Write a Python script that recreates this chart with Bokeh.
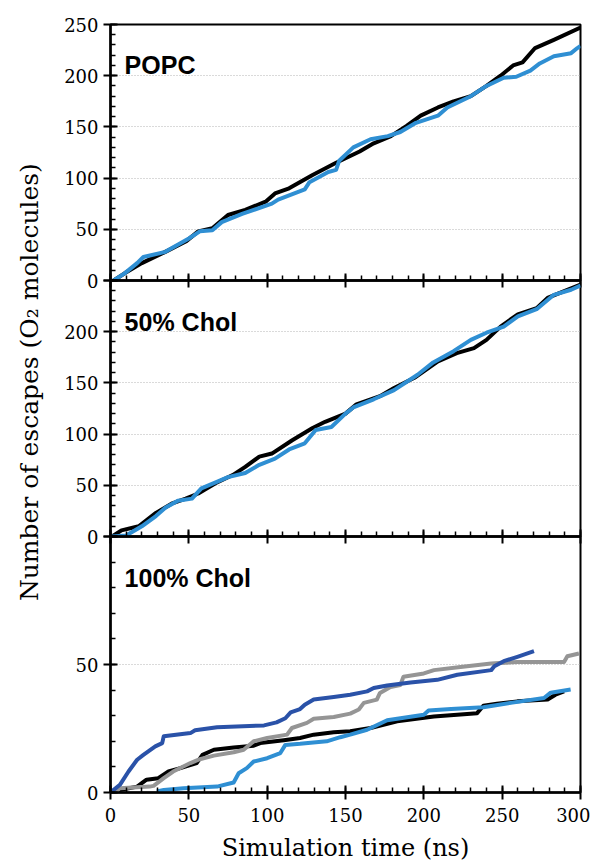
import numpy as np
from bokeh.plotting import figure
from bokeh.models import Range1d, FixedTicker, Label, GridBox
from bokeh.embed import file_html
from bokeh.resources import INLINE

# ---------------- data ----------------
X_TICKS = [0, 50, 100, 150, 200, 250, 300]
X_MINOR = list(range(0, 301, 10))

# POPC panel
popc_black_t = [2, 9, 20, 35, 48, 56, 65, 75, 86, 99, 105, 114, 129, 144, 159, 168, 179, 189, 198,
                209, 219, 230, 240, 249, 257, 263, 271, 283, 300]
popc_black_n = [0, 7, 17, 28, 38, 48, 51, 64, 69, 77, 85, 90, 103, 115, 126, 134, 141, 151, 161,
                169, 175, 180, 190, 200, 210, 213, 227, 235, 247]
popc_blue_t = [2, 9, 17, 21, 35, 50, 57, 65, 71, 84, 103, 107, 124, 127, 139, 144, 146, 155, 166, 177,
               185, 195, 209, 215, 230, 240, 251, 259, 268, 274, 283, 294, 298, 300]
popc_blue_n = [0, 7, 17, 23, 28, 41, 48, 49, 57, 65, 75, 79, 89, 96, 106, 108, 117, 130, 138, 141,
               145, 154, 161, 169, 180, 190, 198, 199, 205, 212, 219, 222, 227, 229]

# 50% Chol panel
chol50_black_t = [1, 7, 18, 29, 39, 48, 56, 67, 78, 86, 95, 103, 116, 129, 137, 150, 157, 172, 181,
                  194, 209, 221, 232, 240, 249, 260, 272, 279, 292, 300]
chol50_black_n = [0, 6, 10, 23, 32, 37, 42, 52, 60, 68, 78, 81, 94, 106, 112, 120, 129, 137, 145,
                  155, 171, 179, 184, 192, 205, 217, 223, 233, 241, 246]
chol50_blue_t = [1, 10, 20, 29, 35, 43, 52, 58, 69, 75, 86, 95, 105, 114, 124, 131, 141, 150, 155,
                 168, 181, 196, 206, 219, 230, 240, 251, 260, 272, 283, 294, 300]
chol50_blue_n = [0, 1, 10, 20, 28, 35, 37, 47, 54, 58, 62, 70, 76, 85, 91, 104, 107, 120, 126,
                 134, 143, 158, 170, 181, 192, 199, 205, 215, 222, 236, 241, 245]

# 100% Chol panel
chol100_dark_t = [0, 6, 11.5, 17, 21, 28.6, 33, 34, 51, 54, 68, 98, 106, 111.6, 115, 121, 124, 129.7,
                  142.5, 153, 163.8, 168, 176.6, 191.5, 208.6, 221.4, 243, 245, 251, 259.7, 270.3]
chol100_dark_n = [0, 3, 8.2, 12.8, 14.7, 18, 19.3, 22, 23.2, 24.3, 25.5, 26.2, 27.4, 29, 31.3, 32.6,
                  34.3, 36.3, 37.3, 38.2, 39.5, 40.8, 41.8, 43, 44, 46, 47.8, 49.3, 51.3, 53, 55.2]
chol100_gray_t = [3, 6, 25, 27.5, 34, 40, 51, 57, 66, 78.6, 85, 91.4, 100, 112.7, 115.8, 125.4, 129.7,
                  142.5, 153, 158.5, 161.7, 170, 172, 178.7, 185, 187, 200, 206.5, 223.4, 243, 259.7,
                  289.5, 291.6, 299]
chol100_gray_n = [0, 1.7, 2.3, 2.6, 5.6, 8.2, 11.5, 13, 14.4, 15.7, 16.7, 20, 21.3, 22.6, 25.2, 27.2,
                  28.8, 29.5, 30.8, 32.4, 35, 36.3, 38.9, 41.2, 42, 45.2, 46.5, 47.8, 49, 50.4, 51,
                  51, 53.2, 54.3]
chol100_black_t = [3, 6, 17, 23, 30.5, 37, 44.6, 55, 58.7, 66, 78.6, 91.4, 95.6, 110.6, 121, 129.7,
                   142.5, 153, 166, 183, 206.4, 234, 238, 246.7, 259.7, 279, 284, 289.5]
chol100_black_n = [0, 1, 2.3, 5, 5.6, 8.2, 9.5, 11.5, 14.7, 16.7, 17.6, 18.3, 19.3, 20.4, 21.3, 22.6,
                   23.5, 23.9, 25.2, 27.8, 29.7, 31, 33.9, 34.7, 35.6, 36.3, 38.2, 39.5]
chol100_blue_t = [29.6, 34, 46.6, 68, 78.6, 81.8, 87, 91.4, 100, 108.4, 111.6, 121, 138, 146.7, 153,
                  163.8, 176.6, 200, 203, 217.4, 238, 255.4, 276.7, 281, 293.7]
chol100_blue_n = [0.4, 1, 1.7, 2.3, 3.9, 7.5, 9.5, 12.1, 13.4, 15.4, 18.6, 19, 20, 21.6, 22.6,
                  24.5, 28.2, 30.4, 32, 32.6, 33.3, 35, 36.9, 39, 40.2]

BLACK = "#000000"
LBLUE = "#2f8fd3"
DBLUE = "#2a52a8"
GRAY = "#959595"

SERIF = "DejaVu Serif"
SANS = "Liberation Sans"
LW = 4


def style_axis(ax):
    ax.axis_line_width = 2.5
    ax.axis_line_color = "black"
    ax.major_tick_line_width = 2
    ax.major_tick_line_color = "black"
    ax.minor_tick_line_width = 1.5
    ax.minor_tick_line_color = "black"
    ax.major_tick_in = 7
    ax.major_tick_out = 7
    ax.minor_tick_in = 5
    ax.minor_tick_out = 0
    ax.major_label_text_font = SERIF
    ax.major_label_text_font_size = "18px"
    ax.major_label_text_color = "black"


def make_panel(y_end, y_ticks, grid_ticks, overrides, min_top, min_bottom, x_labels, title, title_y):
    p = figure(frame_width=470, frame_height=256, x_range=Range1d(0, 300), y_range=Range1d(0, y_end),
               output_backend="svg", toolbar_location=None,
               min_border_left=62, min_border_right=10,
               min_border_top=min_top, min_border_bottom=min_bottom)
    p.background_fill_alpha = 0
    p.border_fill_alpha = 0
    p.outline_line_color = "black"
    p.outline_line_width = 2

    xa = p.xaxis[0]
    style_axis(xa)
    xa.ticker = FixedTicker(ticks=X_TICKS, minor_ticks=X_MINOR)
    if x_labels:
        xa.major_label_standoff = 8
        xa.axis_label = "Simulation time (ns)"
        xa.axis_label_text_font = SERIF
        xa.axis_label_text_font_size = "24px"
        xa.axis_label_text_font_style = "normal"
        xa.axis_label_text_color = "black"
        xa.axis_label_standoff = 9
    else:
        xa.major_label_text_font_size = "0px"
        xa.major_label_standoff = 0
        xa.major_label_overrides = {t: "" for t in X_TICKS}

    ya = p.yaxis[0]
    style_axis(ya)
    ya.ticker = FixedTicker(ticks=y_ticks, minor_ticks=list(range(0, y_end + 1, 10)))
    ya.major_label_standoff = 5
    ya.major_label_overrides = overrides

    p.xgrid.visible = False
    p.ygrid.ticker = FixedTicker(ticks=grid_ticks)
    p.ygrid.grid_line_color = "#b5b5b5"
    p.ygrid.grid_line_dash = "1 2"
    p.ygrid.grid_line_width = 1

    p.add_layout(Label(x=9, y=title_y, text=title, text_font=SANS, text_font_size="25px",
                       text_font_style="bold", text_color="black", text_baseline="alphabetic"))
    return p


p1 = make_panel(250, [0, 50, 100, 150, 200, 250], [50, 100, 150, 200], {}, 16, 12, False, "POPC", 210)
p1.line(popc_black_t, popc_black_n, line_color=BLACK, line_width=LW, line_join="round")
p1.line(popc_blue_t, popc_blue_n, line_color=LBLUE, line_width=LW, line_join="round")

p2 = make_panel(250, [0, 50, 100, 150, 200, 250], [50, 100, 150, 200], {250: ""}, 12, 12, False,
                "50% Chol", 209)
p2.line(chol50_black_t, chol50_black_n, line_color=BLACK, line_width=LW, line_join="round")
p2.line(chol50_blue_t, chol50_blue_n, line_color=LBLUE, line_width=LW, line_join="round")

p3 = make_panel(100, [0, 50, 100], [50], {100: ""}, 12, 75, True, "100% Chol", 83.6)
p3.line(chol100_black_t, chol100_black_n, line_color=BLACK, line_width=LW, line_join="round")
p3.line(chol100_gray_t, chol100_gray_n, line_color=GRAY, line_width=LW, line_join="round")
p3.line(chol100_blue_t, chol100_blue_n, line_color=LBLUE, line_width=LW, line_join="round")
p3.line(chol100_dark_t, chol100_dark_n, line_color=DBLUE, line_width=LW, line_join="round")

# shared y-axis title, in its own narrow column
LAB_H = 859
lab = figure(width=40, height=LAB_H, x_range=Range1d(0, 40), y_range=Range1d(0, LAB_H),
             x_axis_type=None, y_axis_type=None, min_border=0,
             output_backend="svg", toolbar_location=None)
lab.outline_line_color = None
lab.border_fill_alpha = 0
lab.background_fill_alpha = 0
lab.add_layout(Label(x=21, y=LAB_H - 400, text="Number of escapes (O\u2082 molecules)", angle=np.pi / 2,
                     text_align="center", text_baseline="middle", text_font=SERIF,
                     text_font_size="25px", text_color="black"))

# first row/column are the 8px page margin
grid = GridBox(children=[(lab, 1, 1, 5, 1), (p1, 1, 2, 2, 1), (p2, 2, 2, 3, 1), (p3, 4, 2, 2, 1)],
               rows=["8px", "260px", "24px", "232px", "24px", "319px"],
               cols=["8px", "40px", "542px"])

open("out.html", "w").write(file_html(grid, INLINE))
